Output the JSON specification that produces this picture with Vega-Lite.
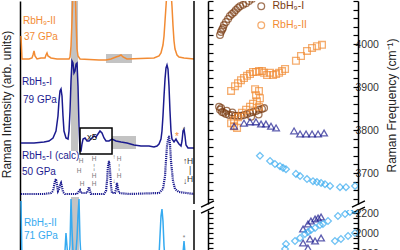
{
  "$schema": "https://vega.github.io/schema/vega-lite/v6.json",
  "padding": 0,
  "background": "white",
  "config": {
    "font": "Liberation Sans",
    "view": {"stroke": null},
    "axis": {
      "domainColor": "#000", "domainWidth": 1.5, "tickColor": "#000", "tickWidth": 1.2,
      "labelFont": "Liberation Sans", "labelFontSize": 10.5, "labelColor": "#333",
      "titleFont": "Liberation Sans", "titleFontSize": 12, "titleFontWeight": "normal", "titleColor": "#222",
      "grid": false
    }
  },
  "datasets": {
    "RbH9-II_37GPa": [
      {"x":1020,"y":23.4},{"x":1040,"y":21.1},{"x":1181,"y":21.1},{"x":1241,"y":21.2},{"x":1261,"y":21.5},{"x":1282,"y":21.9},{"x":1302,"y":21.4},{"x":1342,"y":21.1},{"x":1422,"y":21.2},{"x":1503,"y":21.2},{"x":1523,"y":21.5},{"x":1543,"y":21.7},{"x":1563,"y":21.4},{"x":1624,"y":21.2},{"x":1744,"y":21.1},{"x":1905,"y":21.1},{"x":1986,"y":21.1},{"x":2006,"y":21.3},{"x":2026,"y":22.4},{"x":2046,"y":24.9},{"x":2066,"y":27.9},{"x":2086,"y":30.9},{"x":2106,"y":28.9},{"x":2127,"y":24.9},{"x":2147,"y":22.1},{"x":2167,"y":21.4},{"x":2207,"y":21.1},{"x":2589,"y":21.0},{"x":2730,"y":21.0},{"x":2830,"y":21.1},{"x":2931,"y":21.3},{"x":2991,"y":21.4},{"x":3032,"y":21.5},{"x":3072,"y":21.3},{"x":3152,"y":21.1},{"x":3695,"y":21.2},{"x":3796,"y":21.4},{"x":3836,"y":21.7},{"x":3876,"y":22.5},{"x":3897,"y":23.4},{"x":3917,"y":24.9},{"x":3937,"y":26.4},{"x":3957,"y":27.9},{"x":3997,"y":28.9},{"x":4037,"y":27.9},{"x":4057,"y":26.4},{"x":4078,"y":24.4},{"x":4098,"y":22.9},{"x":4118,"y":22.1},{"x":4158,"y":21.5},{"x":4198,"y":21.3},{"x":4299,"y":21.2},{"x":4500,"y":21.1}
    ],
    "RbH5-I_79GPa": [
      {"x":1020,"y":12.7},{"x":1282,"y":12.7},{"x":1483,"y":12.8},{"x":1583,"y":12.9},{"x":1664,"y":13.2},{"x":1724,"y":13.9},{"x":1764,"y":15.4},{"x":1784,"y":16.9},{"x":1805,"y":17.9},{"x":1825,"y":18.1},{"x":1845,"y":17.4},{"x":1865,"y":15.4},{"x":1885,"y":13.9},{"x":1925,"y":13.2},{"x":1966,"y":13.1},{"x":1986,"y":13.9},{"x":2006,"y":15.9},{"x":2026,"y":18.9},{"x":2046,"y":20.9},{"x":2066,"y":20.7},{"x":2086,"y":19.7},{"x":2106,"y":19.9},{"x":2127,"y":20.6},{"x":2147,"y":20.7},{"x":2167,"y":18.4},{"x":2187,"y":14.4},{"x":2207,"y":11.9},{"x":2227,"y":11.9},{"x":2247,"y":12.6},{"x":2268,"y":13.1},{"x":2308,"y":13.2},{"x":2348,"y":12.9},{"x":2388,"y":12.9},{"x":2428,"y":13.1},{"x":2489,"y":13.4},{"x":2529,"y":13.3},{"x":2569,"y":13.6},{"x":2609,"y":13.9},{"x":2649,"y":13.7},{"x":2690,"y":13.2},{"x":2730,"y":12.9},{"x":2790,"y":12.9},{"x":2851,"y":13.1},{"x":2931,"y":12.9},{"x":3032,"y":12.8},{"x":3152,"y":12.7},{"x":3293,"y":12.5},{"x":3434,"y":12.4},{"x":3595,"y":12.4},{"x":3695,"y":12.3},{"x":3756,"y":12.4},{"x":3796,"y":12.6},{"x":3836,"y":13.1},{"x":3856,"y":13.9},{"x":3876,"y":15.4},{"x":3897,"y":17.4},{"x":3917,"y":19.1},{"x":3937,"y":20.2},{"x":3957,"y":20.5},{"x":3977,"y":20.1},{"x":3997,"y":18.4},{"x":4017,"y":15.9},{"x":4037,"y":13.9},{"x":4057,"y":13.1},{"x":4098,"y":12.8},{"x":4138,"y":13.1},{"x":4158,"y":12.9},{"x":4198,"y":12.6},{"x":4239,"y":12.4},{"x":4259,"y":12.9},{"x":4279,"y":13.9},{"x":4299,"y":14.1},{"x":4319,"y":13.4},{"x":4339,"y":12.5},{"x":4379,"y":12.2},{"x":4500,"y":12.2}
    ],
    "RbH5-I_calc_50GPa": [
      {"x":1020,"y":7.6},{"x":1483,"y":7.6},{"x":1624,"y":7.7},{"x":1664,"y":7.9},{"x":1684,"y":8.4},{"x":1704,"y":8.9},{"x":1724,"y":9.1},{"x":1744,"y":8.5},{"x":1764,"y":7.9},{"x":1784,"y":8.1},{"x":1805,"y":8.5},{"x":1825,"y":8.7},{"x":1845,"y":8.3},{"x":1865,"y":7.8},{"x":1905,"y":7.6},{"x":2147,"y":7.6},{"x":2187,"y":7.9},{"x":2207,"y":8.0},{"x":2227,"y":7.7},{"x":2348,"y":7.7},{"x":2368,"y":8.0},{"x":2388,"y":8.3},{"x":2408,"y":7.9},{"x":2428,"y":7.6},{"x":2690,"y":7.6},{"x":2730,"y":7.9},{"x":2750,"y":8.9},{"x":2770,"y":10.4},{"x":2790,"y":10.9},{"x":2810,"y":10.1},{"x":2830,"y":8.4},{"x":2851,"y":7.7},{"x":2911,"y":7.7},{"x":2931,"y":8.1},{"x":2951,"y":8.7},{"x":2971,"y":8.1},{"x":2991,"y":7.7},{"x":3193,"y":7.6},{"x":3796,"y":7.7},{"x":3876,"y":8.1},{"x":3917,"y":9.4},{"x":3937,"y":11.0},{"x":3957,"y":12.4},{"x":3977,"y":13.0},{"x":3997,"y":13.4},{"x":4017,"y":12.6},{"x":4037,"y":10.9},{"x":4078,"y":8.9},{"x":4118,"y":8.1},{"x":4198,"y":7.8},{"x":4500,"y":7.6}
    ],
    "RbH5-II_71GPa": [
      {"x":1020,"y":6.9},{"x":1040,"y":0.7},{"x":1382,"y":0.7},{"x":1845,"y":0.7},{"x":1885,"y":0.9},{"x":1905,"y":1.9},{"x":1925,"y":3.7},{"x":1945,"y":2.4},{"x":1966,"y":1.1},{"x":1986,"y":1.2},{"x":2006,"y":2.5},{"x":2026,"y":7.1},{"x":2046,"y":4.0},{"x":2066,"y":1.8},{"x":2086,"y":1.3},{"x":2106,"y":1.4},{"x":2127,"y":1.9},{"x":2147,"y":3.2},{"x":2167,"y":5.5},{"x":2187,"y":7.1},{"x":2207,"y":3.0},{"x":2227,"y":1.2},{"x":2268,"y":0.8},{"x":2388,"y":0.7},{"x":3756,"y":0.8},{"x":3796,"y":1.4},{"x":3816,"y":3.4},{"x":3836,"y":5.4},{"x":3856,"y":6.1},{"x":3876,"y":4.9},{"x":3897,"y":2.4},{"x":3917,"y":1.1},{"x":3957,"y":0.7},{"x":4259,"y":0.8},{"x":4279,"y":1.7},{"x":4299,"y":2.9},{"x":4319,"y":1.7},{"x":4339,"y":0.8},{"x":4500,"y":0.7}
    ],
    "bands": [
      {"x":2026,"x2":2167,"y":11.9,"y2":30},
      {"x":2026,"x2":2187,"y":-1,"y2":7.3},
      {"x":2730,"x2":3253,"y":20.7,"y2":21.6},
      {"x":2851,"x2":3333,"y":12.1,"y2":13.4}
    ],
    "zoomed": [{"x":2207,"x2":2851,"y":11.6,"y2":14.2,"text":"x5","tx":2448,"ty":13.3}],
    "frame": [{"x":4500,"y":6.6,"y2":26.9},{"x":4500,"y":0,"y2":6.0}],
    "labels": [
      {"x":1060,"y":24.9,"text":"RbH₉-II","phase":"RbH9-II"},
      {"x":1080,"y":23.3,"text":"37 GPa","phase":"RbH9-II"},
      {"x":1040,"y":18.8,"text":"RbH₅-I","phase":"RbH5-I"},
      {"x":1060,"y":17.05,"text":"79 GPa","phase":"RbH5-I"},
      {"x":1040,"y":11.4,"text":"RbH₅-I (calc)","phase":"RbH5-I"},
      {"x":1040,"y":9.85,"text":"50 GPa","phase":"RbH5-I"},
      {"x":1080,"y":4.75,"text":"RbH₅-II","phase":"RbH5-II"},
      {"x":1080,"y":3.4,"text":"71 GPa","phase":"RbH5-II"},
      {"x":4118,"y":13.3,"text":"*","phase":"RbH9-II"}
    ],
    "marks": [
      {"x":4299,"y":14.0,"text":"*"},{"x":4299,"y":3.2,"text":"*"},
      {"x":2227,"y":10.9,"text":"H"},{"x":2187,"y":9.9,"text":"H"},{"x":2247,"y":8.6,"text":"H"},
      {"x":2489,"y":11.1,"text":"H"},{"x":2489,"y":10.3,"text":"¦"},{"x":2489,"y":9.4,"text":"H"},{"x":2489,"y":8.6,"text":"H"},
      {"x":2891,"y":11.3,"text":"↑"},{"x":2991,"y":11.1,"text":"H"},{"x":2991,"y":10.3,"text":"¦"},{"x":2991,"y":9.4,"text":"H"},{"x":2891,"y":8.9,"text":"↓"}
    ],
    "bond": [
      {"x":4319,"y":10.9,"text":"↑"},{"x":4420,"y":10.9,"text":"H"},{"x":4420,"y":10.0,"text":"|"},{"x":4420,"y":9.1,"text":"H"},{"x":4319,"y":8.9,"text":"↓"}
    ],
    "points": [
      {"phase":"RbH9-I","pressure":21.4,"frequency":4021},{"phase":"RbH9-I","pressure":21.9,"frequency":4028},{"phase":"RbH9-I","pressure":22.5,"frequency":4033},{"phase":"RbH9-I","pressure":23.0,"frequency":4037},{"phase":"RbH9-I","pressure":23.5,"frequency":4044},{"phase":"RbH9-I","pressure":24.6,"frequency":4051},{"phase":"RbH9-I","pressure":25.7,"frequency":4058},{"phase":"RbH9-I","pressure":26.7,"frequency":4065},{"phase":"RbH9-I","pressure":27.8,"frequency":4070},{"phase":"RbH9-I","pressure":28.9,"frequency":4074},{"phase":"RbH9-I","pressure":29.9,"frequency":4079},{"phase":"RbH9-I","pressure":31.0,"frequency":4084},{"phase":"RbH9-I","pressure":32.1,"frequency":4088},{"phase":"RbH9-I","pressure":33.7,"frequency":4091},{"phase":"RbH9-I","pressure":35.3,"frequency":4095},{"phase":"RbH9-I","pressure":36.9,"frequency":4100},{"phase":"RbH9-I","pressure":38.5,"frequency":4105},
      {"phase":"RbH9-I","pressure":20.9,"frequency":3854},{"phase":"RbH9-I","pressure":21.4,"frequency":3847},{"phase":"RbH9-I","pressure":22.0,"frequency":3851},{"phase":"RbH9-I","pressure":22.5,"frequency":3842},{"phase":"RbH9-I","pressure":23.5,"frequency":3840},{"phase":"RbH9-I","pressure":24.6,"frequency":3837},{"phase":"RbH9-I","pressure":25.0,"frequency":3845},{"phase":"RbH9-I","pressure":26.2,"frequency":3835},{"phase":"RbH9-I","pressure":27.8,"frequency":3835},{"phase":"RbH9-I","pressure":28.0,"frequency":3841},{"phase":"RbH9-I","pressure":29.4,"frequency":3833},{"phase":"RbH9-I","pressure":31.0,"frequency":3833},{"phase":"RbH9-I","pressure":32.6,"frequency":3833},{"phase":"RbH9-I","pressure":34.2,"frequency":3835},{"phase":"RbH9-I","pressure":35.8,"frequency":3837},{"phase":"RbH9-I","pressure":37.4,"frequency":3840},{"phase":"RbH9-I","pressure":38.0,"frequency":3831},{"phase":"RbH9-I","pressure":39.0,"frequency":3842},{"phase":"RbH9-I","pressure":40.6,"frequency":3844},{"phase":"RbH9-I","pressure":42.2,"frequency":3847},{"phase":"RbH9-I","pressure":42.0,"frequency":3836},{"phase":"RbH9-I","pressure":43.8,"frequency":3849},{"phase":"RbH9-I","pressure":44.9,"frequency":3851},
      {"phase":"RbH9-II","pressure":27.3,"frequency":3891},{"phase":"RbH9-II","pressure":29.4,"frequency":3902},{"phase":"RbH9-II","pressure":31.0,"frequency":3909},{"phase":"RbH9-II","pressure":32.6,"frequency":3916},{"phase":"RbH9-II","pressure":34.2,"frequency":3921},{"phase":"RbH9-II","pressure":35.8,"frequency":3926},{"phase":"RbH9-II","pressure":37.4,"frequency":3930},{"phase":"RbH9-II","pressure":39.0,"frequency":3935},{"phase":"RbH9-II","pressure":40.6,"frequency":3935},{"phase":"RbH9-II","pressure":42.2,"frequency":3937},{"phase":"RbH9-II","pressure":43.8,"frequency":3937},{"phase":"RbH9-II","pressure":44.9,"frequency":3933},{"phase":"RbH9-II","pressure":46.5,"frequency":3928},{"phase":"RbH9-II","pressure":48.1,"frequency":3933},{"phase":"RbH9-II","pressure":49.7,"frequency":3928},{"phase":"RbH9-II","pressure":51.3,"frequency":3930},{"phase":"RbH9-II","pressure":52.9,"frequency":3933},{"phase":"RbH9-II","pressure":54.5,"frequency":3937},{"phase":"RbH9-II","pressure":56.1,"frequency":3942},{"phase":"RbH9-II","pressure":61.9,"frequency":3961},{"phase":"RbH9-II","pressure":64.6,"frequency":3972},{"phase":"RbH9-II","pressure":67.8,"frequency":3984},{"phase":"RbH9-II","pressure":70.5,"frequency":3991},{"phase":"RbH9-II","pressure":73.1,"frequency":3995},{"phase":"RbH9-II","pressure":75.8,"frequency":3998},
      {"phase":"RbH9-II","pressure":40.1,"frequency":3895},{"phase":"RbH9-II","pressure":42.2,"frequency":3891},{"phase":"RbH9-II","pressure":40.6,"frequency":3881},{"phase":"RbH9-II","pressure":42.7,"frequency":3874},{"phase":"RbH9-II","pressure":41.1,"frequency":3867},{"phase":"RbH9-II","pressure":39.0,"frequency":3861},{"phase":"RbH9-II","pressure":37.4,"frequency":3854},{"phase":"RbH9-II","pressure":42.2,"frequency":3854},{"phase":"RbH9-II","pressure":35.3,"frequency":3847},{"phase":"RbH9-II","pressure":33.1,"frequency":3840},{"phase":"RbH9-II","pressure":31.0,"frequency":3830},{"phase":"RbH9-II","pressure":28.9,"frequency":3823},{"phase":"RbH9-II","pressure":27.3,"frequency":3816},{"phase":"RbH9-II","pressure":28.9,"frequency":3809},{"phase":"RbH9-II","pressure":30.5,"frequency":3805},
      {"phase":"RbH5-I","pressure":28.9,"frequency":3809},{"phase":"RbH5-I","pressure":34.2,"frequency":3816},{"phase":"RbH5-I","pressure":37.4,"frequency":3819},{"phase":"RbH5-I","pressure":40.6,"frequency":3819},{"phase":"RbH5-I","pressure":43.3,"frequency":3814},{"phase":"RbH5-I","pressure":45.9,"frequency":3814},{"phase":"RbH5-I","pressure":48.6,"frequency":3809},{"phase":"RbH5-I","pressure":51.3,"frequency":3805},{"phase":"RbH5-I","pressure":60.9,"frequency":3798},{"phase":"RbH5-I","pressure":64.1,"frequency":3791},{"phase":"RbH5-I","pressure":67.3,"frequency":3791},{"phase":"RbH5-I","pressure":70.5,"frequency":3791},{"phase":"RbH5-I","pressure":73.7,"frequency":3791},{"phase":"RbH5-I","pressure":76.9,"frequency":3793},
      {"phase":"RbH5-I","pressure":65.7,"frequency":2040},{"phase":"RbH5-I","pressure":68.3,"frequency":2090},{"phase":"RbH5-I","pressure":69.9,"frequency":2120},{"phase":"RbH5-I","pressure":72.1,"frequency":2140},{"phase":"RbH5-I","pressure":73.7,"frequency":2150},{"phase":"RbH5-I","pressure":75.3,"frequency":2160},{"phase":"RbH5-I","pressure":65.7,"frequency":1900},{"phase":"RbH5-I","pressure":69.4,"frequency":1940},{"phase":"RbH5-I","pressure":72.1,"frequency":1920},{"phase":"RbH5-I","pressure":75.3,"frequency":1950},{"phase":"RbH5-I","pressure":68.3,"frequency":1850},
      {"phase":"RbH5-II","pressure":42.7,"frequency":3740},{"phase":"RbH5-II","pressure":48.1,"frequency":3728},{"phase":"RbH5-II","pressure":50.7,"frequency":3721},{"phase":"RbH5-II","pressure":53.4,"frequency":3716},{"phase":"RbH5-II","pressure":55.0,"frequency":3712},{"phase":"RbH5-II","pressure":56.6,"frequency":3709},{"phase":"RbH5-II","pressure":61.9,"frequency":3698},{"phase":"RbH5-II","pressure":64.1,"frequency":3693},{"phase":"RbH5-II","pressure":67.8,"frequency":3686},{"phase":"RbH5-II","pressure":71.0,"frequency":3681},{"phase":"RbH5-II","pressure":73.1,"frequency":3679},{"phase":"RbH5-II","pressure":75.3,"frequency":3677},{"phase":"RbH5-II","pressure":77.4,"frequency":3674},{"phase":"RbH5-II","pressure":80.1,"frequency":3670},{"phase":"RbH5-II","pressure":85.4,"frequency":3667},{"phase":"RbH5-II","pressure":88.6,"frequency":3667},{"phase":"RbH5-II","pressure":93.4,"frequency":3670},
      {"phase":"RbH5-II","pressure":56.6,"frequency":1890},{"phase":"RbH5-II","pressure":61.4,"frequency":1920},{"phase":"RbH5-II","pressure":64.1,"frequency":1950},{"phase":"RbH5-II","pressure":66.7,"frequency":1990},{"phase":"RbH5-II","pressure":68.3,"frequency":2010},{"phase":"RbH5-II","pressure":69.9,"frequency":2030},{"phase":"RbH5-II","pressure":72.1,"frequency":2050},{"phase":"RbH5-II","pressure":74.7,"frequency":2080},{"phase":"RbH5-II","pressure":76.3,"frequency":2090},{"phase":"RbH5-II","pressure":79.0,"frequency":2120},{"phase":"RbH5-II","pressure":84.3,"frequency":2170},{"phase":"RbH5-II","pressure":88.1,"frequency":2190},{"phase":"RbH5-II","pressure":90.7,"frequency":2210},{"phase":"RbH5-II","pressure":93.4,"frequency":2230},{"phase":"RbH5-II","pressure":82.7,"frequency":1920},{"phase":"RbH5-II","pressure":85.9,"frequency":1940},{"phase":"RbH5-II","pressure":89.7,"frequency":1970},{"phase":"RbH5-II","pressure":93.4,"frequency":2000},{"phase":"RbH5-II","pressure":56.1,"frequency":1840}
    ],
    "breaks": [
      {"pressure":11.3,"pressure2":18.2,"frequency":3621,"frequency2":3635},
      {"pressure":11.3,"pressure2":18.2,"frequency":3607,"frequency2":3621},
      {"pressure":91.8,"pressure2":98.7,"frequency":3621,"frequency2":3635},
      {"pressure":91.8,"pressure2":98.7,"frequency":3607,"frequency2":3621}
    ]
  },
  "resolve": {"scale": {"color": "independent"}, "legend": {"color": "independent"}},
  "spacing": 5,
  "hconcat": [
    {
      "width": 174,
      "height": 269,
      "encoding": {
        "x": {"field": "x", "type": "quantitative", "scale": {"domain": [1000, 4500], "nice": false, "zero": false}, "axis": null},
        "y": {"field": "y", "type": "quantitative", "scale": {"domain": [0, 26.9], "nice": false, "zero": false},
              "axis": {"title": "Raman Intensity (arb. units)", "labels": false, "ticks": false, "titlePadding": 7, "titleY": 103}}
      },
      "layer": [
        {"data": {"name": "bands"}, "mark": {"type": "rect", "color": "#c3c3c3", "clip": true},
         "encoding": {"x2": {"field": "x2"}, "y2": {"field": "y2"}}},
        {"data": {"name": "RbH9-II_37GPa"}, "mark": {"type": "line", "color": "#f28b33", "strokeWidth": 1.5, "clip": true}},
        {"data": {"name": "RbH5-I_79GPa"}, "mark": {"type": "line", "color": "#1b1b8f", "strokeWidth": 1.5, "clip": true}},
        {"data": {"name": "RbH5-I_calc_50GPa"}, "mark": {"type": "line", "color": "#1b1b8f", "strokeWidth": 2.2, "strokeDash": [1.2, 0.9], "clip": true}},
        {"data": {"name": "RbH5-II_71GPa"}, "mark": {"type": "line", "color": "#35aaf0", "strokeWidth": 1.5, "clip": true}},
        {"data": {"name": "zoomed"}, "mark": {"type": "rect", "fill": null, "stroke": "#000", "strokeWidth": 1.5},
         "encoding": {"x2": {"field": "x2"}, "y2": {"field": "y2"}}},
        {"data": {"name": "zoomed"}, "mark": {"type": "text", "fontSize": 9.5, "color": "#111"},
         "encoding": {"x": {"field": "tx", "type": "quantitative"}, "y": {"field": "ty", "type": "quantitative"}, "text": {"field": "text"}}},
        {"data": {"name": "frame"}, "mark": {"type": "rule", "color": "#000", "strokeWidth": 1.5},
         "encoding": {"y2": {"field": "y2"}}},
        {"data": {"name": "labels"}, "mark": {"type": "text", "align": "left", "baseline": "middle", "fontSize": 10},
         "encoding": {"text": {"field": "text"},
                      "color": {"field": "phase", "type": "nominal", "legend": null,
                                "scale": {"domain": ["RbH9-I", "RbH9-II", "RbH5-I", "RbH5-II"], "range": ["#7b3c12", "#f28b33", "#1b1b8f", "#35aaf0"]}}}},
        {"data": {"name": "marks"}, "mark": {"type": "text", "baseline": "middle", "fontSize": 6.5, "color": "#777"},
         "encoding": {"text": {"field": "text"}}},
        {"data": {"name": "bond"}, "mark": {"type": "text", "baseline": "middle", "fontSize": 8.5, "color": "#333"},
         "encoding": {"text": {"field": "text"}}}
      ]
    },
    {
      "spacing": 6,
      "bounds": "flush",
      "vconcat": [
        {
          "width": 150,
          "height": 203,
          "encoding": {
            "x": {"field": "pressure", "type": "quantitative", "scale": {"domain": [15, 95], "nice": false, "zero": false}, "axis": null}
          },
          "layer": [
            {"data": {"name": "points"}, "transform": [{"filter": "datum.frequency > 3000"}],
             "mark": {"type": "point", "filled": false, "strokeWidth": 1.3, "size": 45, "clip": true},
             "encoding": {
               "y": {"field": "frequency", "type": "quantitative", "scale": {"domain": [3628, 4100], "nice": false, "zero": false},
                     "axis": {"orient": "left", "values": [3640,3660,3680,3700,3720,3740,3760,3780,3800,3820,3840,3860,3880,3900,3920,3940,3960,3980,4000,4020,4040,4060,4080,4100], "labels": false, "tickSize": -5, "title": null}},
               "color": {"field": "phase", "type": "nominal",
                         "scale": {"domain": ["RbH9-I", "RbH9-II", "RbH5-I", "RbH5-II"], "range": ["#7b3c12", "#f28b33", "#1b1b8f", "#35aaf0"]},
                         "legend": {"values": ["RbH9-I", "RbH9-II"], "orient": "none", "legendX": 48, "legendY": 0, "title": null,
                                    "labelExpr": "replace(datum.label, '9', '₉')", "labelFontSize": 10.5, "labelFont": "Liberation Sans",
                                    "symbolSize": 45, "symbolStrokeWidth": 1.3, "rowPadding": 6, "labelOffset": 6,
                                    "labelColor": {"expr": "datum.value == 'RbH9-I' ? '#7b3c12' : '#f28b33'"}}},
               "shape": {"field": "phase", "type": "nominal",
                         "scale": {"domain": ["RbH9-I", "RbH9-II", "RbH5-I", "RbH5-II"], "range": ["circle", "square", "triangle-up", "diamond"]}}
             }},
            {"data": {"name": "breaks"}, "mark": {"type": "rule", "color": "#000", "strokeWidth": 1.4, "clip": false},
             "encoding": {
               "x2": {"field": "pressure2"},
               "y": {"field": "frequency", "type": "quantitative", "scale": {"domain": [3628, 4100], "nice": false, "zero": false},
                     "axis": {"orient": "right", "format": "d", "values": [3640,3660,3680,3700,3720,3740,3760,3780,3800,3820,3840,3860,3880,3900,3920,3940,3960,3980,4000,4020,4040,4060,4080,4100],
                              "labelExpr": "datum.value % 100 === 0 && datum.value < 4100 ? datum.label : ''",
                              "tickSize": -5, "labelPadding": 2, "title": "Raman Frequency (cm⁻¹)", "titleAngle": 270, "titlePadding": 20, "titleFontSize": 12, "titleY": 104}},
               "y2": {"field": "frequency2"}
             }}
          ],
          "resolve": {"axis": {"y": "independent"}}
        },
        {
          "width": 150,
          "height": 60,
          "encoding": {
            "x": {"field": "pressure", "type": "quantitative", "scale": {"domain": [15, 95], "nice": false, "zero": false}, "axis": null}
          },
          "layer": [
            {"data": {"name": "points"}, "transform": [{"filter": "datum.frequency < 3000"}],
             "mark": {"type": "point", "filled": false, "strokeWidth": 1.3, "size": 45, "clip": true},
             "encoding": {
               "y": {"field": "frequency", "type": "quantitative", "scale": {"domain": [1630, 2230], "nice": false, "zero": false},
                     "axis": {"orient": "left", "values": [1650,1700,1750,1800,1850,1900,1950,2000,2050,2100,2150,2200], "labels": false, "tickSize": -5, "title": null}},
               "color": {"field": "phase", "type": "nominal",
                         "scale": {"domain": ["RbH9-I", "RbH9-II", "RbH5-I", "RbH5-II"], "range": ["#7b3c12", "#f28b33", "#1b1b8f", "#35aaf0"]}},
               "shape": {"field": "phase", "type": "nominal",
                         "scale": {"domain": ["RbH9-I", "RbH9-II", "RbH5-I", "RbH5-II"], "range": ["circle", "square", "triangle-up", "diamond"]}}
             }},
            {"data": {"name": "points"}, "transform": [{"filter": "datum.frequency < 3000"}],
             "mark": {"type": "point", "opacity": 0},
             "encoding": {
               "y": {"field": "frequency", "type": "quantitative", "scale": {"domain": [1630, 2230], "nice": false, "zero": false},
                     "axis": {"orient": "right", "format": "d", "values": [1650,1700,1750,1800,1850,1900,1950,2000,2050,2100,2150,2200],
                              "labelExpr": "datum.value % 200 === 0 ? datum.label : ''", "tickSize": -5, "labelPadding": 2, "title": null}}
             }}
          ],
          "resolve": {"axis": {"y": "independent"}}
        }
      ]
    }
  ]
}
